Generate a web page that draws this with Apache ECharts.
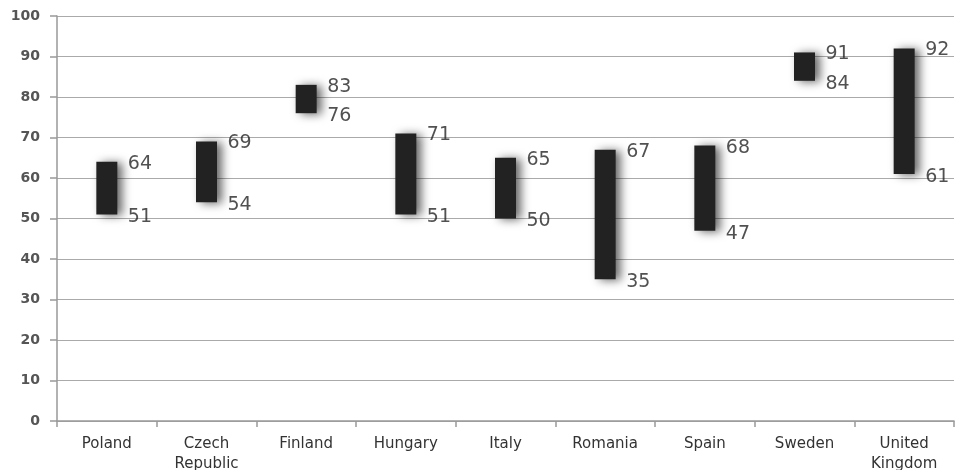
<!DOCTYPE html>
<html>
<head>
<meta charset="utf-8">
<script src="https://cdn.jsdelivr.net/npm/echarts@6/dist/echarts.min.js"></script>
<style>
  html, body { margin: 0; padding: 0; background: #fff; }
  #chart { width: 955px; height: 470px; }
</style>
</head>
<body>
<div id="chart"></div>
<script>
// Range per country: lower and upper value
const countries = ['Poland', 'Czech\nRepublic', 'Finland', 'Hungary', 'Italy', 'Romania', 'Spain', 'Sweden', 'United\nKingdom'];
const lowValues  = [51, 54, 76, 51, 50, 35, 47, 84, 61];
const highValues = [64, 69, 83, 71, 65, 67, 68, 91, 92];
const yTicks = { min: 0, max: 100, interval: 10 };

const spans = highValues.map((h, i) => h - lowValues[i]);
const labelFont = { fontFamily: 'DejaVu Sans', fontSize: 19, color: '#262626' };

const chart = echarts.init(document.getElementById('chart'));
chart.setOption({
  animation: false,
  grid: { left: 57, right: 1, top: 16, bottom: 49, containLabel: false, outerBoundsMode: 'none' },
  xAxis: {
    type: 'category',
    data: countries,
    axisLine: { lineStyle: { color: '#999', width: 1.5 } },
    axisTick: { show: true, length: 6, lineStyle: { color: '#999', width: 1.5 } },
    axisLabel: {
      interval: 0, margin: 13, color: '#333',
      fontFamily: 'DejaVu Sans', fontSize: 15, lineHeight: 20
    }
  },
  yAxis: {
    type: 'value',
    min: yTicks.min, max: yTicks.max, interval: yTicks.interval,
    axisLine: { show: true, lineStyle: { color: '#999', width: 1.5 } },
    axisTick: { show: true, length: 7, lineStyle: { color: '#999', width: 1.5 } },
    axisLabel: { margin: 17, color: '#555', fontFamily: 'DejaVu Sans', fontSize: 14, fontWeight: 'bold' },
    splitLine: { lineStyle: { color: '#aaa', width: 1.2 } }
  },
  series: [
    {
      type: 'bar', stack: 'range', barWidth: 21,
      data: lowValues,
      itemStyle: { color: 'transparent' },
      silent: true
    },
    {
      type: 'bar', stack: 'range', barWidth: 21,
      data: spans,
      itemStyle: {
        color: '#222',
        shadowColor: 'rgba(0,0,0,0.6)', shadowBlur: 10, shadowOffsetX: 5, shadowOffsetY: 1
      }
    },
    {
      type: 'scatter', symbolSize: 0,
      data: highValues.map((v, i) => [i, v]),
      label: { show: true, position: 'right', distance: 21, offset: [0, 2], formatter: p => p.value[1], ...labelFont }
    },
    {
      type: 'scatter', symbolSize: 0,
      data: lowValues.map((v, i) => [i, v]),
      label: { show: true, position: 'right', distance: 21, offset: [0, 3], formatter: p => p.value[1], ...labelFont }
    }
  ]
});
</script>
</body>
</html>
